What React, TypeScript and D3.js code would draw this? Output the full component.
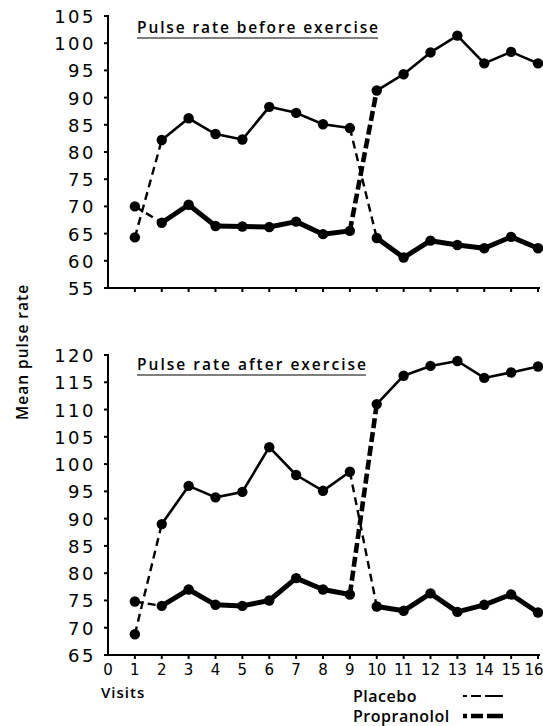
import * as d3 from 'd3';

// visits 1..16, mean pulse rate
const visits = [1, 2, 3, 4, 5, 6, 7, 8, 9, 10, 11, 12, 13, 14, 15, 16];
const axisVisits = [0, 1, 2, 3, 4, 5, 6, 7, 8, 9, 10, 11, 12, 13, 14, 15, 16];

// group A: propranolol first (visits 2-9), placebo second (10-16)
const beforeA = [70, 67, 70.3, 66.4, 66.3, 66.2, 67.2, 64.9, 65.5, 91.3, 94.3, 98.3, 101.4, 96.3, 98.4, 96.3];
const afterA = [74.8, 74.0, 77.0, 74.2, 74.0, 75.0, 79.1, 77.0, 76.1, 111.0, 116.2, 118.0, 118.9, 115.8, 116.8, 117.9];
// group B: placebo first, propranolol second
const beforeB = [64.3, 82.2, 86.2, 83.3, 82.3, 88.3, 87.2, 85.1, 84.4, 64.2, 60.6, 63.7, 62.9, 62.3, 64.4, 62.3];
const afterB = [68.8, 89.0, 96.0, 93.9, 94.9, 103.1, 98.0, 95.1, 98.6, 73.9, 73.1, 76.3, 72.9, 74.2, 76.1, 72.8];

// treatment style of each segment (visit i -> i+1)
const stylesA = ['pd', 'rs', 'rs', 'rs', 'rs', 'rs', 'rs', 'rs', 'rd', 'ps', 'ps', 'ps', 'ps', 'ps', 'ps'];
const stylesB = ['pd', 'ps', 'ps', 'ps', 'ps', 'ps', 'ps', 'ps', 'pd', 'rs', 'rs', 'rs', 'rs', 'rs', 'rs'];

const ticksBefore = [55, 60, 65, 70, 75, 80, 85, 90, 95, 100, 105];
const ticksAfter = [65, 70, 75, 80, 85, 90, 95, 100, 105, 110, 115, 120];

const FONT = '"DejaVu Sans", sans-serif';
const LABEL_FONT = '"Open Sans", "DejaVu Sans", sans-serif';

const segStyle: Record<string, { w: number; dash?: string }> = {
  ps: { w: 2.6 },
  pd: { w: 2.4, dash: '8,5' },
  rs: { w: 5 },
  rd: { w: 4.6, dash: '10,4' },
};

const x = d3.scaleLinear().domain([0, 16]).range([108, 538]);

function Panel({ y, ticks, series, title, titleY, titleLen, bottom }: any) {
  const [y0, y1] = y.range();
  const line = d3.line<[number, number]>().x(d => x(d[0])).y(d => y(d[1]));
  return (
    <g>
      {/* y axis */}
      <line x1={108} x2={108} y1={y1 - 1} y2={y0} stroke="#000" strokeWidth={2} />
      {ticks.map((t: number) => (
        <g key={t}>
          <line x1={104} x2={108} y1={y(t)} y2={y(t)} stroke="#000" strokeWidth={2} />
          <text x={96} y={y(t) + 7} textAnchor="end" fontSize={18} letterSpacing={2.5}
            fontFamily={FONT} fill="#000">{t}</text>
        </g>
      ))}
      {/* x axis */}
      <line x1={108} x2={540} y1={y0} y2={y0} stroke="#000" strokeWidth={2} />
      {visits.map(v => (
        <line key={v} x1={x(v)} x2={x(v)} y1={y0} y2={y0 + 4} stroke="#000" strokeWidth={2} />
      ))}
      {bottom && axisVisits.map(v => (
        <text key={v} x={v === 16 ? 534 : x(v)} y={y0 + 20} textAnchor="middle"
          fontSize={15} fontFamily={FONT} fill="#000">{v}</text>
      ))}
      {/* title */}
      <text x={137} y={titleY} fontSize={15.5} fontWeight={600} fontFamily={LABEL_FONT}
        textLength={titleLen} lengthAdjust="spacing" fill="#000">{title}</text>
      <line x1={137} x2={137 + titleLen} y1={titleY + 5} y2={titleY + 5} stroke="#000" strokeWidth={1.2} />
      {/* series */}
      {series.map(([vals, styles]: [number[], string[]], si: number) => (
        <g key={si}>
          {styles.map((s, i) => {
            const st = segStyle[s];
            return (
              <path key={i} d={line([[visits[i], vals[i]], [visits[i + 1], vals[i + 1]]]) || ''}
                fill="none" stroke="#000" strokeWidth={st.w} strokeDasharray={st.dash}
                strokeLinecap="butt" strokeLinejoin="round" />
            );
          })}
          {vals.map((v, i) => (
            <circle key={i} cx={x(visits[i])} cy={y(v)} r={5.2} fill="#000" />
          ))}
        </g>
      ))}
    </g>
  );
}

export default function App() {
  const yBefore = d3.scaleLinear().domain([55, 105]).range([288, 16]);
  const yAfter = d3.scaleLinear().domain([65, 120]).range([655, 355]);
  return (
    <svg width={543} height={726} style={{ position: 'absolute', left: 0, top: 0, background: '#fff' }}>
      <rect width={543} height={726} fill="#fff" />
      <Panel y={yBefore} ticks={ticksBefore} series={[[beforeA, stylesA], [beforeB, stylesB]]}
        title="Pulse rate before exercise" titleY={33} titleLen={241} />
      <Panel y={yAfter} ticks={ticksAfter} series={[[afterA, stylesA], [afterB, stylesB]]}
        title="Pulse rate after exercise" titleY={370} titleLen={229} bottom />
      <text transform="translate(28,352) rotate(-90)" textAnchor="middle" fontSize={15.5}
        fontWeight={600} letterSpacing={1} fontFamily={LABEL_FONT} fill="#000">Mean pulse rate</text>
      <text x={101} y={698} fontSize={15} fontWeight={600} letterSpacing={1} fontFamily={LABEL_FONT} fill="#000">Visits</text>
      <text x={353} y={702} fontSize={16} fontWeight={600} letterSpacing={0.5} fontFamily={LABEL_FONT} fill="#000">Placebo</text>
      <text x={353} y={722} fontSize={16} fontWeight={600} letterSpacing={0.5} fontFamily={LABEL_FONT} fill="#000">Propranolol</text>
      <line x1={463} x2={503} y1={696} y2={696} stroke="#000" strokeWidth={2} strokeDasharray="4,4,10,4,40" />
      <line x1={463} x2={503} y1={716} y2={716} stroke="#000" strokeWidth={4.5} strokeDasharray="4,4,12,4,40" />
    </svg>
  );
}
